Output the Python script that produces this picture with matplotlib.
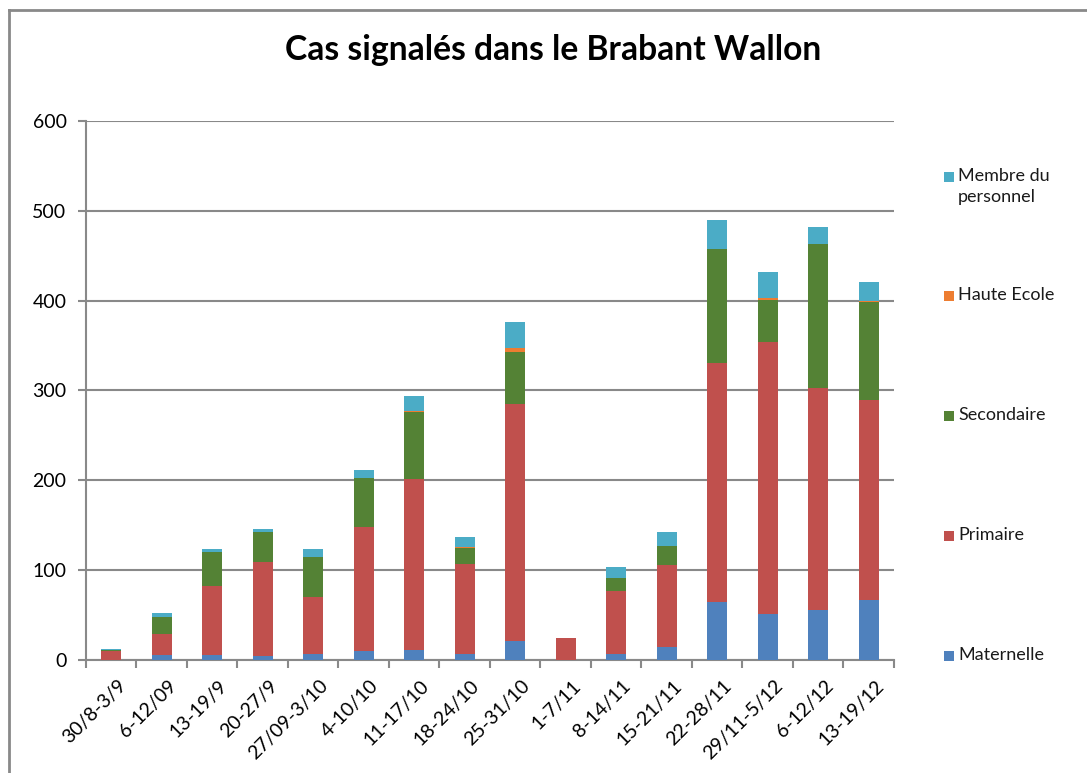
import matplotlib.pyplot as plt
import matplotlib.transforms as mtransforms
from matplotlib.lines import Line2D
from matplotlib.patches import Rectangle

categories = ['30/8-3/9', '6-12/09', '13-19/9', '20-27/9', '27/09-3/10', '4-10/10',
              '11-17/10', '18-24/10', '25-31/10', '1-7/11', '8-14/11', '15-21/11',
              '22-28/11', '29/11-5/12', '6-12/12', '13-19/12']
maternelle = [0, 5, 5, 4, 7, 10, 11, 7, 21, 0, 7, 14, 65, 51, 56, 67]
primaire = [10, 24, 77, 105, 63, 138, 190, 100, 264, 24, 70, 92, 266, 303, 247, 222]
secondaire = [1, 19, 38, 33, 45, 55, 75, 18, 58, 0, 14, 21, 126, 47, 160, 110]
haute_ecole = [0, 0, 0, 1, 0, 0, 1, 1, 4, 0, 0, 0, 0, 2, 0, 1]
membre = [1, 4, 4, 3, 9, 8, 17, 11, 29, 0, 12, 16, 33, 29, 19, 21]

series = [
    ('Maternelle', maternelle, '#4F81BD'),
    ('Primaire', primaire, '#C0504D'),
    ('Secondaire', secondaire, '#548235'),
    ('Haute Ecole', haute_ecole, '#ED7D31'),
    ('Membre du\npersonnel', membre, '#4BACC6'),
]

plt.rcParams['font.family'] = ['Lato', 'DejaVu Sans']
grid_col = '#898989'

fig = plt.figure(figsize=(10.87, 7.73), dpi=100)
ax = fig.add_axes([0.0791, 0.1462, 0.7433, 0.6973])

x = list(range(len(categories)))
bottom = [0] * len(categories)
for name, vals, col in series:
    ax.bar(x, vals, width=0.4, bottom=bottom, color=col, edgecolor='none', zorder=3)
    bottom = [b + v for b, v in zip(bottom, vals)]

ax.set_xlim(-0.5, len(categories) - 0.5)
ax.set_ylim(0, 600)
ax.set_yticks(range(0, 601, 100))
ax.yaxis.grid(True, color=grid_col, linewidth=1.5, zorder=0)
ax.set_xticks([i - 0.5 for i in range(len(categories) + 1)])
ax.set_xticklabels([])
ax.set_xticks(x, minor=True)
ax.set_xticklabels(categories, minor=True, rotation=45, ha='right',
                   rotation_mode='anchor', fontsize=14)
ax.tick_params(axis='x', which='minor', length=0, pad=12)
ax.tick_params(axis='x', which='major', length=6, width=1.5, color=grid_col)
ax.tick_params(axis='y', length=6, width=1.5, color=grid_col, labelsize=14, pad=8)
shift = mtransforms.ScaledTranslation(6 / 100, 0, fig.dpi_scale_trans)
for lab in ax.get_xticklabels(minor=True):
    lab.set_transform(lab.get_transform() + shift)
for s in ['top', 'right']:
    ax.spines[s].set_visible(False)
for s in ['left', 'bottom']:
    ax.spines[s].set_color(grid_col)
    ax.spines[s].set_linewidth(1.5)

fig.text(0.509, 0.935, 'Cas signalés dans le Brabant Wallon', ha='center', va='center',
         fontsize=24.2, fontweight='bold')

# manual legend, Excel-style spacing
leg_y = [656, 536, 416, 296, 177]
for (name, vals, col), yy in zip(series, leg_y):
    fy = 1 - yy / 773
    fig.patches.append(Rectangle((944 / 1087, fy - 5 / 773), 10 / 1087, 10 / 773,
                                 transform=fig.transFigure, facecolor=col, edgecolor='none'))
    fig.text(958 / 1087, fy + 9 / 773, name, ha='left', va='top', fontsize=13,
             linespacing=1.4, color='#1a1a1a')

# outer chart frame (left and top)
fig.add_artist(Line2D([9 / 1087, 9 / 1087], [0, 1 - 10 / 773], transform=fig.transFigure,
                      color=grid_col, linewidth=2))
fig.add_artist(Line2D([9 / 1087, 1], [1 - 10 / 773, 1 - 10 / 773], transform=fig.transFigure,
                      color=grid_col, linewidth=2))

fig.savefig('out.png', dpi=100)
